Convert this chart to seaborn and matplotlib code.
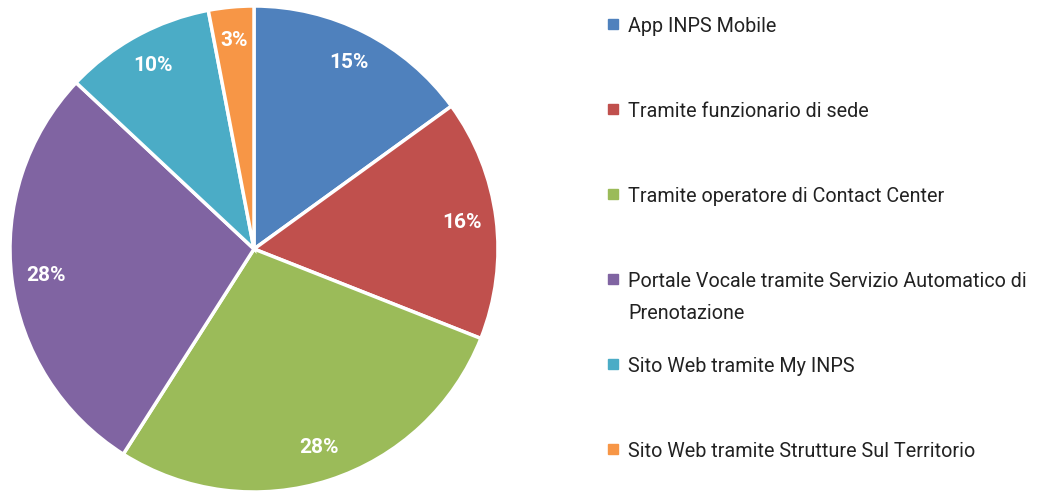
import matplotlib
matplotlib.use('Agg')
import matplotlib.pyplot as plt
import seaborn as sns

# data
categories = ['App INPS Mobile',
              'Tramite funzionario di sede',
              'Tramite operatore di Contact Center',
              'Portale Vocale tramite Servizio Automatico di\nPrenotazione',
              'Sito Web tramite My INPS',
              'Sito Web tramite Strutture Sul Territorio']
shares = [15, 16, 28, 28, 10, 3]
colors = ['#4F81BD', '#C0504D', '#9BBB59', '#8064A2', '#4BACC6', '#F79646']

sns.set_style('white')
plt.rcParams['font.family'] = ['Roboto', 'DejaVu Sans']

W, H = 1040, 493
fig = plt.figure(figsize=(W / 100, H / 100), dpi=100)
ax = fig.add_axes([10 / W, 1 / H, 488 / W, 486 / H])

wedges, texts, autotexts = ax.pie(
    shares, colors=colors, startangle=90, counterclock=False,
    autopct='%1.0f%%', pctdistance=0.86,
    wedgeprops=dict(edgecolor='white', linewidth=2.5),
    textprops=dict(color='white', fontsize=15, fontweight='bold'))
ax.set_aspect('auto')
ax.set_xlim(-1, 1)
ax.set_ylim(-1, 1)
ax.axis('off')

# legend drawn by hand so wrapped label keeps marker on first line
for i, (lab, col) in enumerate(zip(categories, colors)):
    y = 24 + 85 * i
    fig.patches.append(plt.Rectangle((608 / W, 1 - (y + 5) / H), 10 / W, 10 / H,
                                     transform=fig.transFigure, color=col))
    for j, line in enumerate(lab.split('\n')):
        fig.text(628 / W, 1 - (y + 8 + 32 * j) / H, line, fontsize=14.2,
                 color='#222222', va='baseline', ha='left')

fig.savefig('out.png', dpi=100, facecolor='white')
